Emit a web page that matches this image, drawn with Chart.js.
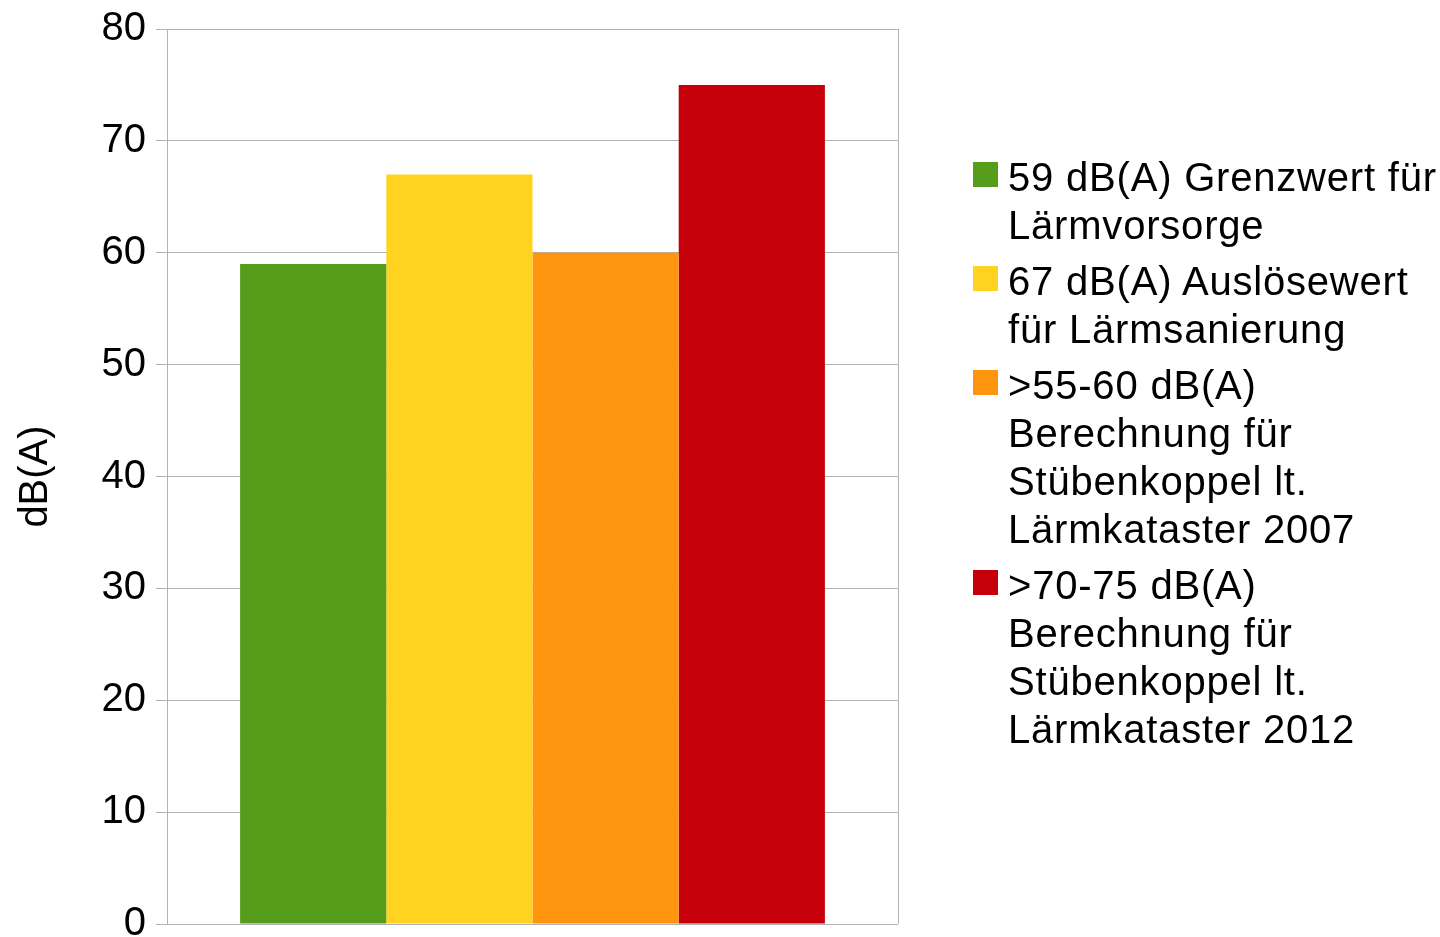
<!DOCTYPE html>
<html>
<head>
<meta charset="utf-8">
<script src="https://cdn.jsdelivr.net/npm/chart.js@4"></script>
<style>
  html, body { margin: 0; padding: 0; background: #fff; }
  #wrap { position: relative; width: 1440px; height: 937px; overflow: hidden; }
  #c { position: absolute; left: 0; top: 0; }
  #legend { position: absolute; left: 973px; top: 153px; font-family: "Liberation Sans", Arial, sans-serif; font-size: 40px; line-height: 48px; letter-spacing: 0.8px; color: #000; }
  .item { display: flex; align-items: flex-start; margin-bottom: 8px; }
  .sw { width: 25px; height: 25px; margin-top: 9px; margin-right: 10px; flex: none; }
  .txt { white-space: pre; }
</style>
</head>
<body>
<div id="wrap">
  <canvas id="c" width="1440" height="937"></canvas>
  <div id="legend"></div>
</div>
<script>
const categories = [""];
const seriesLabels = [
  "59 dB(A) Grenzwert für\nLärmvorsorge",
  "67 dB(A) Auslösewert\nfür Lärmsanierung",
  ">55-60 dB(A)\nBerechnung für\nStübenkoppel lt.\nLärmkataster 2007",
  ">70-75 dB(A)\nBerechnung für\nStübenkoppel lt.\nLärmkataster 2012"
];
const seriesValues = [59, 67, 60, 75];
const seriesColors = ["#579d1c", "#ffd320", "#ff950e", "#c5000b"];
const yTicks = [0, 10, 20, 30, 40, 50, 60, 70, 80];
const yTitle = "dB(A)";

const FONT = "'Liberation Sans', Arial, sans-serif";
const GRID = "#b3b3b3";

const datasets = seriesLabels.map((lab, i) => ({
  label: lab.replace(/\n/g, " "),
  data: [seriesValues[i]],
  backgroundColor: seriesColors[i],
  borderWidth: 0,
  barPercentage: 1.0,
  categoryPercentage: 0.8
}));

new Chart(document.getElementById("c"), {
  type: "bar",
  data: { labels: categories, datasets },
  options: {
    responsive: false,
    animation: false,
    events: [],
    layout: { padding: { left: 0, top: 29, right: 542, bottom: 13 } },
    plugins: { legend: { display: false }, tooltip: { enabled: false } },
    scales: {
      x: {
        grid: { display: true, offset: true, drawTicks: false, color: GRID, lineWidth: 1 },
        border: { display: false },
        ticks: { display: false }
      },
      y: {
        min: yTicks[0],
        max: yTicks[yTicks.length - 1],
        afterBuildTicks: (s) => { s.ticks = yTicks.map(v => ({ value: v })); },
        afterFit: (s) => { s.width = 167; s.paddingTop = 0; s.paddingBottom = 0; },
        grid: { color: GRID, lineWidth: 1, tickLength: 11, drawTicks: true },
        border: { display: true, color: GRID, width: 1 },
        ticks: { color: "#000", font: { family: FONT, size: 40 }, padding: 10 },
        title: { display: true, text: yTitle, color: "#000", font: { family: FONT, size: 40 }, padding: { top: 12, bottom: 0 } }
      }
    }
  }
});

const leg = document.getElementById("legend");
seriesLabels.forEach((lab, i) => {
  const it = document.createElement("div");
  it.className = "item";
  const sw = document.createElement("div");
  sw.className = "sw";
  sw.style.background = seriesColors[i];
  const tx = document.createElement("div");
  tx.className = "txt";
  tx.textContent = lab;
  it.appendChild(sw);
  it.appendChild(tx);
  leg.appendChild(it);
});
</script>
</body>
</html>
